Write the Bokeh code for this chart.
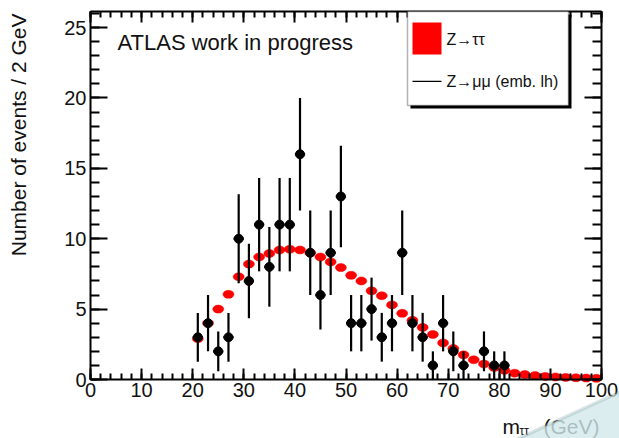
import numpy as np
from bokeh.plotting import figure
from bokeh.models import (LinearAxis, FixedTicker, Label, BoxAnnotation,
                          PolyAnnotation, ColumnDataSource)
from bokeh.embed import file_html
from bokeh.resources import INLINE

# ---- data: 2 GeV bins of the visible-mass spectrum -------------------------
# Z -> mumu embedded sample (points with Poisson errors)
emb_mass = [21, 23, 25, 27, 29, 31, 33, 35, 37, 39, 41, 43, 45, 47, 49, 51,
            53, 55, 57, 59, 61, 63, 65, 67, 69, 71, 73, 75, 77, 79, 81]
emb_counts = [3, 4, 2, 3, 10, 7, 11, 8, 11, 11, 16, 9, 6, 9, 13, 4,
              4, 5, 3, 4, 9, 4, 3, 1, 4, 2, 1, 0, 2, 1, 1]

# Z -> tautau simulation (normalised expectation per bin)
mc_mass = [21, 23, 25, 27, 29, 31, 33, 35, 37, 39, 41, 43, 45, 47, 49, 51,
           53, 55, 57, 59, 61, 63, 65, 67, 69, 71, 73, 75, 77, 79, 81, 83,
           85, 87, 89, 91, 93, 95, 97, 99]
mc_values = [2.9, 4.0, 5.0, 6.05, 7.3, 8.2, 8.7, 8.95, 9.2, 9.25, 9.2, 9.0,
             8.7, 8.35, 7.95, 7.4, 7.0, 6.3, 5.95, 5.3, 4.7, 4.2, 3.7, 3.2,
             2.6, 2.2, 1.75, 1.4, 1.1, 0.85, 0.65, 0.45, 0.35, 0.28, 0.22,
             0.18, 0.15, 0.12, 0.10, 0.08]

x_major = [0, 10, 20, 30, 40, 50, 60, 70, 80, 90, 100]
y_major = [0, 5, 10, 15, 20, 25]
BIN_HALF = 1.0

# ---- canvas geometry -------------------------------------------------------
W, H = 619, 438
FL, FR, FT, FB = 90, 601, 11, 379          # histogram box edges in pixels
X0, X1 = 0.0, 100.0
Y0, Y1 = 0.0, 26.14


def dx(px):
    return X0 + (px - FL) * (X1 - X0) / (FR - FL)


def dy(py):
    return Y0 + (FB - py) * (Y1 - Y0) / (FB - FT)


FONT = "Liberation Sans"
INK = "#111111"

# the plotting frame spans the whole canvas; the histogram box is drawn by
# four axes pinned to the box edges
p = figure(width=W, height=H, x_range=(dx(0), dx(W)), y_range=(dy(H), dy(0)),
           x_axis_type=None, y_axis_type=None,
           output_backend="svg", toolbar_location=None,
           min_border=0, min_border_left=0, min_border_right=0,
           min_border_top=0, min_border_bottom=0,
           background_fill_color="white", border_fill_color="white")
p.grid.visible = False
p.outline_line_color = None

x_minor = list(range(0, 101, 2))
y_minor = list(range(0, 27))


def make_axis(major, minor, loc, bounds, major_len, minor_len, labels):
    ax = LinearAxis(fixed_location=loc, bounds=bounds,
                    ticker=FixedTicker(ticks=major, minor_ticks=minor))
    ax.axis_line_color = "black"
    ax.axis_line_width = 2
    ax.major_tick_in = major_len
    ax.major_tick_out = 0
    ax.minor_tick_in = minor_len
    ax.minor_tick_out = 0
    ax.major_tick_line_width = 2
    ax.minor_tick_line_width = 2
    ax.major_tick_line_color = "black"
    ax.minor_tick_line_color = "black"
    ax.major_label_text_font = FONT
    ax.major_label_text_color = INK
    ax.major_label_text_font_size = "20px"
    if not labels:
        ax.major_label_overrides = {float(v): "" for v in major}
    return ax


bottom = make_axis(x_major, x_minor, Y0, (X0, X1), 11, 6, True)
bottom.major_label_standoff = 3
top = make_axis(x_major, x_minor, Y1, (X0, X1), 11, 6, False)
left = make_axis(y_major, y_minor, X0, (Y0, Y1), 17, 9, True)
left.major_label_standoff = 4
right = make_axis(y_major, y_minor, X1, (Y0, Y1), 17, 9, False)
p.add_layout(bottom, "below")
p.add_layout(top, "above")
p.add_layout(left, "left")
p.add_layout(right, "right")

# ---- Z -> tautau expectation (red markers) --------------------------------
mc = ColumnDataSource(dict(x=mc_mass, y=mc_values))
p.ellipse(x="x", y="y", width=11, height=8, width_units="screen",
          height_units="screen", source=mc, fill_color="red",
          line_color="red", line_alpha=0.5)

# ---- embedded Z -> mumu points with errors ---------------------------------
em_x = np.array(emb_mass, dtype=float)
em_y = np.array(emb_counts, dtype=float)
keep = em_y > 0
em_x, em_y = em_x[keep], em_y[keep]
em_err = np.sqrt(em_y)                      # Poisson uncertainty
data = ColumnDataSource(dict(x=em_x, y=em_y, lo=em_y - em_err,
                             hi=em_y + em_err, xl=em_x - BIN_HALF,
                             xr=em_x + BIN_HALF))
p.segment(x0="x", y0="lo", x1="x", y1="hi", source=data,
          line_color="black", line_width=2.2)
p.segment(x0="xl", y0="y", x1="xr", y1="y", source=data,
          line_color="black", line_width=2.4)
p.scatter(x="x", y="y", source=data, marker="circle", size=9,
          fill_color="black", line_color="black")

# ---- legend box with drop shadow ------------------------------------------
p.add_layout(BoxAnnotation(left=dx(410), right=dx(571), top=dy(14),
                           bottom=dy(108), fill_color="black", fill_alpha=1,
                           line_alpha=0))
p.add_layout(BoxAnnotation(left=dx(407), right=dx(568), top=dy(11),
                           bottom=dy(105), fill_color="white", fill_alpha=1,
                           line_color="black", line_width=1.5))
p.add_layout(BoxAnnotation(left=dx(412), right=dx(441), top=dy(22),
                           bottom=dy(54), fill_color="red", fill_alpha=1,
                           line_alpha=0))
p.add_layout(BoxAnnotation(left=dx(412), right=dx(441), top=dy(80.2),
                           bottom=dy(81.6), fill_color="black", fill_alpha=1,
                           line_alpha=0))
for txt, py in [("Z\u2192\u03c4\u03c4", 39), ("Z\u2192\u03bc\u03bc (emb. lh)", 81)]:
    p.add_layout(Label(x=dx(446), y=dy(py), text=txt, text_font=FONT,
                       text_font_size="16px", text_baseline="middle",
                       text_color=INK))

p.add_layout(Label(x=dx(117), y=dy(42), text="ATLAS work in progress",
                   text_font=FONT, text_font_size="22px",
                   text_baseline="middle", text_color=INK))

# ---- axis titles -----------------------------------------------------------
p.add_layout(Label(x=dx(18), y=dy(13), text="Number of events / 2 GeV",
                   angle=np.pi / 2, text_align="right",
                   text_baseline="middle", text_font=FONT,
                   text_font_size="21px", text_color=INK))
p.add_layout(Label(x=dx(502), y=dy(426), text="m", text_font=FONT,
                   text_font_size="21px", text_baseline="middle",
                   text_color=INK))
p.add_layout(Label(x=dx(519), y=dy(430), text="\u03c4\u03c4", text_font=FONT,
                   text_font_size="12px", text_baseline="middle",
                   text_color=INK))
p.add_layout(Label(x=dx(543), y=dy(426), text="(GeV)", text_font=FONT,
                   text_font_size="21px", text_baseline="middle",
                   text_color=INK))

# folded page corner in the lower right
p.add_layout(PolyAnnotation(xs=[dx(512), dx(625), dx(625)],
                            ys=[dy(440.75), dy(388.9), dy(440.75)],
                            fill_color="#d2e8ea", fill_alpha=0.8,
                            line_color="#84a2a5", line_width=3.5,
                            level="overlay"))

open("out.html", "w").write(file_html(p, INLINE))
